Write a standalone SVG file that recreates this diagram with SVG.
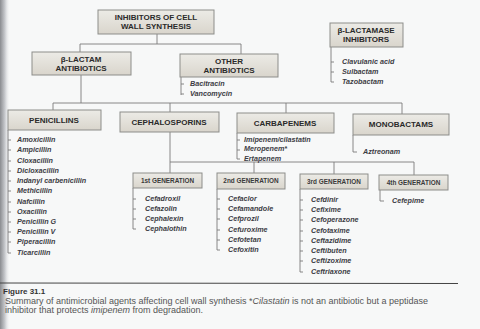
<svg xmlns="http://www.w3.org/2000/svg" width="480" height="329" viewBox="0 0 480 329">
<defs>
<linearGradient id="bx" x1="0" y1="0" x2="0" y2="1">
<stop offset="0" stop-color="#ecebe6"/>
<stop offset="1" stop-color="#d9d5cc"/>
</linearGradient>
<linearGradient id="gut" x1="0" y1="0" x2="1" y2="0">
<stop offset="0" stop-color="#8a8c90"/>
<stop offset="0.5" stop-color="#c9cbcf"/>
<stop offset="1" stop-color="#f4f5f6" stop-opacity="0"/>
</linearGradient>
</defs>
<style>
.box{fill:url(#bx);stroke:#8d8d8a;stroke-width:1}
.t{font-family:"Liberation Sans",Arial,sans-serif;font-weight:bold;fill:#2a2a2a;text-anchor:middle}
.h{font-size:8px}
.g{font-size:6.4px;fill:#3a3a3a}
.i{font-family:"Liberation Sans",Arial,sans-serif;font-style:italic;font-weight:bold;font-size:7.2px;fill:#3c3c44}
.c{stroke:#7a7a7a;stroke-width:0.9;fill:none}
.cap{font-family:"Liberation Sans",Arial,sans-serif;font-size:9px;fill:#555}
</style>
<rect width="480" height="329" fill="#f7f8f8"/>
<rect width="10" height="329" fill="url(#gut)"/>

<g id="connectors" class="c">
<path d="M157 34V44M80 44H241M80 44V52M241 44V54"/>
<path d="M81 75V103M53 103H402M53 103V110M170 103V112M286 103V113M402 103V114"/>
<path d="M170 132V188M170 162H414M254 162V173M334 162V174M414 162V175"/>
<path d="M181 77V95M181 84h3M181 94h3"/>
<path d="M331 47V82M331 62h3M331 72h3M331 82h3"/>
<path d="M8 130V253M8 140h3M8 150h3M8 161h3M8 171h3M8 181h3M8 191h3M8 202h3M8 212h3M8 222h3M8 232h3M8 242h3M8 253h3"/>
<path d="M237 133V159M237 140h3M237 150h3M237 159h3"/>
<path d="M353 135V152h4"/>
<path d="M133 188V229M133 199h3M133 209h3M133 219h3M133 229h3"/>
<path d="M217 189V250M217 199h3M217 209h3M217 219h3M217 230h3M217 240h3M217 250h3"/>
<path d="M300 189V272M300 200h3M300 210h3M300 220h3M300 231h3M300 241h3M300 251h3M300 261h3M300 272h3"/>
<path d="M380 190V201h4"/>
</g>

<g id="inhibitors">
<rect class="box" x="98" y="10" width="116" height="24"/>
<text class="t h" x="156" y="20">INHIBITORS OF CELL</text>
<text class="t h" x="156" y="29">WALL SYNTHESIS</text>
</g>
<g id="beta-lactam">
<rect class="box" x="32" y="52" width="99" height="23"/>
<text class="t h" x="81" y="62">β-LACTAM</text>
<text class="t h" x="81" y="71">ANTIBIOTICS</text>
</g>
<g id="other">
<rect class="box" x="180" y="54" width="98" height="23"/>
<text class="t h" x="229" y="64">OTHER</text>
<text class="t h" x="229" y="73">ANTIBIOTICS</text>
<text class="i" x="190" y="86">Bacitracin</text>
<text class="i" x="190" y="96">Vancomycin</text>
</g>
<g id="blactamase">
<rect class="box" x="330" y="23" width="73" height="24"/>
<text class="t h" x="366" y="33">β-LACTAMASE</text>
<text class="t h" x="366" y="42">INHIBITORS</text>
<text class="i" x="342" y="64">Clavulanic acid</text>
<text class="i" x="342" y="74">Sulbactam</text>
<text class="i" x="342" y="84">Tazobactam</text>
</g>
<g id="penicillins">
<rect class="box" x="8" y="110" width="93" height="20"/>
<text class="t h" x="54" y="123">PENICILLINS</text>
<text class="i" x="17" y="142">Amoxicillin</text>
<text class="i" x="17" y="152">Ampicillin</text>
<text class="i" x="17" y="163">Cloxacillin</text>
<text class="i" x="17" y="173">Dicloxacillin</text>
<text class="i" x="17" y="183">Indanyl carbenicillin</text>
<text class="i" x="17" y="193">Methicillin</text>
<text class="i" x="17" y="204">Nafcillin</text>
<text class="i" x="17" y="214">Oxacillin</text>
<text class="i" x="17" y="224">Penicillin G</text>
<text class="i" x="17" y="234">Penicillin V</text>
<text class="i" x="17" y="244">Piperacillin</text>
<text class="i" x="17" y="255">Ticarcillin</text>
</g>
<g id="cephalosporins">
<rect class="box" x="120" y="112" width="99" height="20"/>
<text class="t h" x="169" y="125">CEPHALOSPORINS</text>
</g>
<g id="carbapenems">
<rect class="box" x="237" y="113" width="97" height="20"/>
<text class="t h" x="285" y="126">CARBAPENEMS</text>
<text class="i" x="244" y="142">Imipenem/cilastatin</text>
<text class="i" x="244" y="151">Meropenem*</text>
<text class="i" x="244" y="161">Ertapenem</text>
</g>
<g id="monobactams">
<rect class="box" x="353" y="114" width="96" height="21"/>
<text class="t h" x="401" y="127">MONOBACTAMS</text>
<text class="i" x="363" y="154">Aztreonam</text>
</g>
<g id="gen1">
<rect class="box" x="133" y="173" width="69" height="15"/>
<text class="t g" x="167.500" y="182.700">1st GENERATION</text>
<text class="i" x="145" y="201">Cefadroxil</text>
<text class="i" x="145" y="211">Cefazolin</text>
<text class="i" x="145" y="221">Cephalexin</text>
<text class="i" x="145" y="231">Cephalothin</text>
</g>
<g id="gen2">
<rect class="box" x="217" y="173" width="68" height="16"/>
<text class="t g" x="251" y="183.200">2nd GENERATION</text>
<text class="i" x="228" y="201">Cefaclor</text>
<text class="i" x="228" y="211">Cefamandole</text>
<text class="i" x="228" y="221">Cefprozil</text>
<text class="i" x="228" y="232">Cefuroxime</text>
<text class="i" x="228" y="242">Cefotetan</text>
<text class="i" x="228" y="252">Cefoxitin</text>
</g>
<g id="gen3">
<rect class="box" x="300" y="174" width="68" height="15"/>
<text class="t g" x="334" y="183.700">3rd GENERATION</text>
<text class="i" x="311" y="202">Cefdinir</text>
<text class="i" x="311" y="212">Cefixime</text>
<text class="i" x="311" y="222">Cefoperazone</text>
<text class="i" x="311" y="233">Cefotaxime</text>
<text class="i" x="311" y="243">Ceftazidime</text>
<text class="i" x="311" y="253">Ceftibuten</text>
<text class="i" x="311" y="263">Ceftizoxime</text>
<text class="i" x="311" y="274">Ceftriaxone</text>
</g>
<g id="gen4">
<rect class="box" x="379" y="175" width="69" height="15"/>
<text class="t g" x="413.500" y="184.700">4th GENERATION</text>
<text class="i" x="392" y="203">Cefepime</text>
</g>

<g id="caption">
<line x1="0" y1="283" x2="458" y2="283.500" stroke="#444" stroke-width="1"/>
<text class="cap" x="3" y="294" style="font-weight:bold;fill:#333;font-size:8px">Figure 31.1</text>
<text class="cap" x="5" y="304">Summary of antimicrobial agents affecting cell wall synthesis  *<tspan font-style="italic">Cilastatin</tspan> is not an antibiotic but a peptidase</text>
<text class="cap" x="5" y="313">inhibitor that protects <tspan font-style="italic">imipenem</tspan> from degradation.</text>
</g>
</svg>
